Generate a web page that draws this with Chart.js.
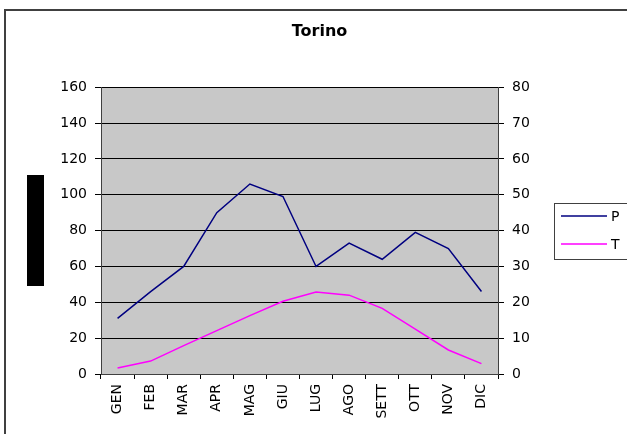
<!DOCTYPE html>
<html>
<head>
<meta charset="utf-8">
<script src="https://cdn.jsdelivr.net/npm/chart.js@4/dist/chart.umd.min.js"></script>
<style>
  html, body { margin: 0; padding: 0; background: #ffffff; }
  #wrap { position: relative; width: 627px; height: 434px; overflow: hidden; }
  canvas { display: block; }
</style>
</head>
<body>
<div id="wrap"><canvas id="c" width="627" height="434"></canvas></div>
<script>
const chartTitle = 'Torino';
const months = ['GEN','FEB','MAR','APR','MAG','GIU','LUG','AGO','SETT','OTT','NOV','DIC'];
const precipLabel = 'P';
const tempLabel = 'T';
const precip = [31, 46, 60, 90, 106, 99, 60, 73, 64, 79, 70, 46];
const temp = [1.7, 3.6, 7.9, 12.1, 16.3, 20.3, 22.9, 22.0, 18.3, 12.5, 6.7, 2.9];
const leftTicks = {min: 0, max: 160, step: 20};
const rightTicks = {min: 0, max: 80, step: 10};

const FONT = 'DejaVu Sans';

const decor = {
  id: 'decor',
  beforeDraw(chart) {
    const {ctx, chartArea: a} = chart;
    ctx.save();
    ctx.fillStyle = '#c8c8c8';
    ctx.fillRect(a.left, a.top, a.right - a.left, a.bottom - a.top);
    ctx.restore();
  },
  afterDraw(chart) {
    const ctx = chart.ctx;
    ctx.save();
    // outer frame (cropped on right/bottom)
    ctx.strokeStyle = '#404040';
    ctx.lineWidth = 2;
    ctx.beginPath();
    ctx.moveTo(5, 434);
    ctx.lineTo(5, 10);
    ctx.lineTo(627, 10);
    ctx.stroke();
    // redacted axis title block
    ctx.fillStyle = '#000000';
    ctx.fillRect(27, 175, 17, 111);
    // legend
    ctx.strokeStyle = '#404040';
    ctx.lineWidth = 1;
    ctx.strokeRect(554.5, 203.5, 120, 56);
    const items = chart.data.datasets;
    const ys = [216, 244];
    ctx.font = '14px "' + FONT + '"';
    ctx.textBaseline = 'middle';
    ctx.textAlign = 'left';
    items.forEach((ds, i) => {
      ctx.strokeStyle = ds.borderColor;
      ctx.lineWidth = 1.5;
      ctx.beginPath();
      ctx.moveTo(561, ys[i]);
      ctx.lineTo(607, ys[i]);
      ctx.stroke();
      ctx.fillStyle = '#000';
      ctx.fillText(ds.label, 611, ys[i] + 1);
    });
    ctx.restore();
  }
};

new Chart(document.getElementById('c'), {
  type: 'line',
  data: {
    labels: months,
    datasets: [
      {label: precipLabel, data: precip, yAxisID: 'y', borderColor: '#000080', borderWidth: 1.5, pointRadius: 0, tension: 0, fill: false},
      {label: tempLabel, data: temp, yAxisID: 'y1', borderColor: '#ff00ff', borderWidth: 1.5, pointRadius: 0, tension: 0, fill: false}
    ]
  },
  options: {
    responsive: false,
    animation: false,
    devicePixelRatio: 1,
    layout: {padding: {left: 12, right: 0, top: 0, bottom: 0}},
    plugins: {
      legend: {display: false},
      tooltip: {enabled: false},
      title: {
        display: true,
        text: chartTitle,
        color: '#000',
        font: {family: FONT, size: 16, weight: 'bold'},
        padding: {top: 22, bottom: 46}
      }
    },
    scales: {
      x: {
        offset: true,
        grid: {offset: true, drawOnChartArea: false, drawTicks: true, tickLength: 5, color: '#000'},
        border: {color: '#404040', width: 1},
        ticks: {minRotation: 90, maxRotation: 90, autoSkip: false, padding: 5, color: '#000', font: {family: FONT, size: 14}},
        afterFit(s) { s.height = 60; }
      },
      y: {
        position: 'left',
        min: leftTicks.min, max: leftTicks.max,
        grid: {color: '#000', tickLength: 6},
        border: {color: '#404040', width: 1},
        ticks: {stepSize: leftTicks.step, padding: 8, color: '#000', font: {family: FONT, size: 14}},
        afterFit(s) { s.width = 89; }
      },
      y1: {
        position: 'right',
        min: rightTicks.min, max: rightTicks.max,
        grid: {drawOnChartArea: false, color: '#000', tickLength: 6},
        border: {color: '#404040', width: 1},
        ticks: {stepSize: rightTicks.step, padding: 8, color: '#000', font: {family: FONT, size: 14}},
        afterFit(s) { s.width = 129; }
      }
    }
  },
  plugins: [decor]
});
</script>
</body>
</html>
